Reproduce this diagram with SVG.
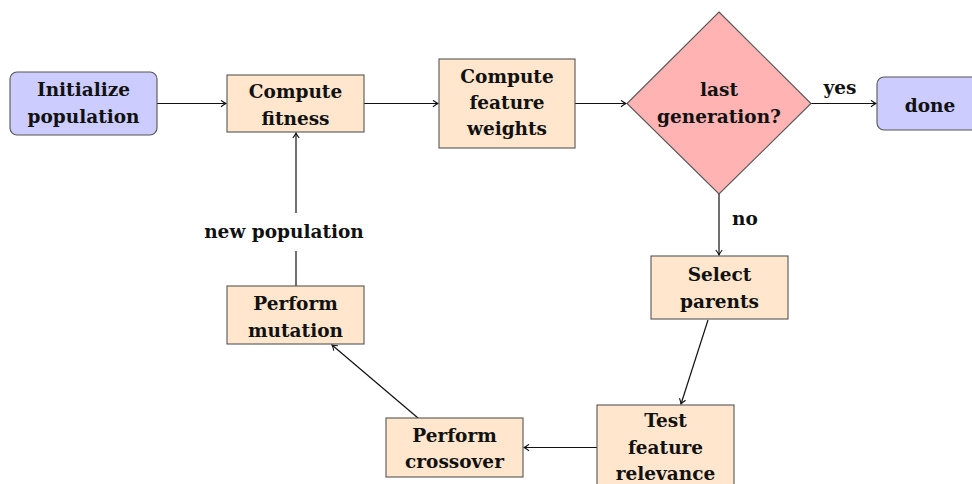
<svg xmlns="http://www.w3.org/2000/svg" width="972" height="484" viewBox="0 0 972 484">
<defs>
<style>
.t{font-family:"DejaVu Serif","Liberation Serif",serif;font-weight:bold;font-size:18.5px;fill:#111;text-anchor:middle}
.term{fill:#ccccff;stroke:#555;stroke-width:1.1}
.proc{fill:#ffe6cc;stroke:#555;stroke-width:1.1}
.dec{fill:#ffb3b3;stroke:#555;stroke-width:1.1}
.c{fill:none;stroke:#111;stroke-width:1.2}
</style>
<marker id="ah" viewBox="-6 -4 8 8" markerWidth="8" markerHeight="8" refX="0" refY="0" orient="auto" markerUnits="userSpaceOnUse">
<path d="M-5,-3.2 Q-2,-0.8 0,0 Q-2,0.8 -5,3.2" fill="none" stroke="#111" stroke-width="1.1"/>
</marker>
</defs>
<rect width="972" height="484" fill="#fff"/>
<g id="connectors">
<line class="c" x1="157" y1="103.5" x2="226" y2="103.5" marker-end="url(#ah)"/>
<line class="c" x1="364" y1="103.5" x2="438" y2="103.5" marker-end="url(#ah)"/>
<line class="c" x1="575" y1="103.5" x2="626" y2="103.5" marker-end="url(#ah)"/>
<line class="c" x1="811" y1="103.5" x2="876" y2="103.5" marker-end="url(#ah)"/>
<text class="t" x="840" y="94">yes</text>
<line class="c" x1="719" y1="194" x2="719" y2="255" marker-end="url(#ah)"/>
<text class="t" x="745" y="225">no</text>
<line class="c" x1="708" y1="320" x2="681" y2="404" marker-end="url(#ah)"/>
<line class="c" x1="597" y1="447.5" x2="524" y2="447.5" marker-end="url(#ah)"/>
<line class="c" x1="418" y1="418" x2="332" y2="345" marker-end="url(#ah)"/>
<line class="c" x1="296" y1="286" x2="296" y2="251"/>
<line class="c" x1="296" y1="213" x2="296" y2="133" marker-end="url(#ah)"/>
<text class="t" x="284" y="238">new population</text>
</g>
<g id="init">
<rect class="term" x="10" y="72" width="147" height="63" rx="7"/>
<text class="t" x="83.5" y="96">Initialize</text>
<text class="t" x="83.5" y="123">population</text>
</g>
<g id="fitness">
<rect class="proc" x="227" y="75" width="137" height="57"/>
<text class="t" x="295.5" y="98">Compute</text>
<text class="t" x="295.5" y="125">fitness</text>
</g>
<g id="weights">
<rect class="proc" x="439" y="59" width="136" height="89"/>
<text class="t" x="507" y="83">Compute</text>
<text class="t" x="507" y="109">feature</text>
<text class="t" x="507" y="135">weights</text>
</g>
<g id="decision">
<polygon class="dec" points="719,12 811,103.5 719,194 627,103.5"/>
<text class="t" x="719" y="96">last</text>
<text class="t" x="719" y="123">generation?</text>
</g>
<g id="done">
<rect class="term" x="877" y="77" width="107" height="53" rx="7"/>
<text class="t" x="930" y="112">done</text>
</g>
<g id="select">
<rect class="proc" x="651" y="256" width="137" height="63"/>
<text class="t" x="719.5" y="281">Select</text>
<text class="t" x="719.5" y="308">parents</text>
</g>
<g id="test">
<rect class="proc" x="597" y="405" width="137" height="89"/>
<text class="t" x="665.5" y="427">Test</text>
<text class="t" x="665.5" y="454">feature</text>
<text class="t" x="665.5" y="480">relevance</text>
</g>
<g id="crossover">
<rect class="proc" x="386" y="418" width="137" height="59"/>
<text class="t" x="454.5" y="441.5">Perform</text>
<text class="t" x="454.5" y="468">crossover</text>
</g>
<g id="mutation">
<rect class="proc" x="227" y="286" width="137" height="58"/>
<text class="t" x="295.5" y="310">Perform</text>
<text class="t" x="295.5" y="336.5">mutation</text>
</g>
</svg>
